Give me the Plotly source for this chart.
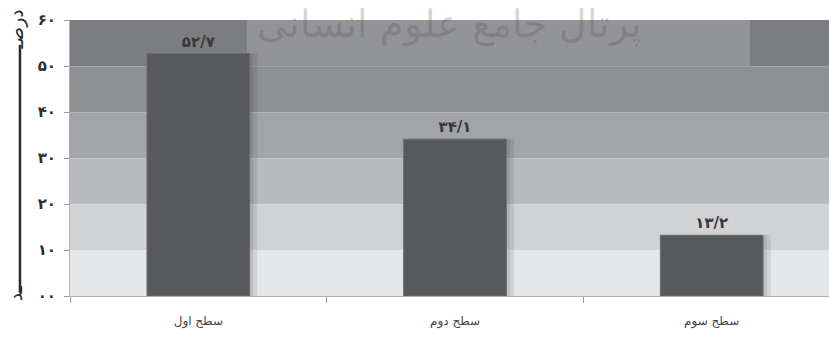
import plotly.graph_objects as go

# Data
categories = ["سطح اول", "سطح دوم", "سطح سوم"]
values = [52.7, 34.1, 13.2]
value_labels = ["۵۲/۷", "۳۴/۱", "۱۳/۲"]
y_ticks = [0, 10, 20, 30, 40, 50, 60]
y_tick_labels = ["۰۰", "۱۰", "۲۰", "۳۰", "۴۰", "۵۰", "۶۰"]

# Horizontal background bands, light at the bottom, dark at the top
band_colors = ["#e6e7e8", "#d1d2d4", "#b9babd", "#a3a4a8", "#8f9094", "#7c7d81"]

fig = go.Figure()

# soft shadow to the right of each bar
fig.add_trace(go.Bar(
    x=categories, y=values, width=0.43, offset=-0.2,
    marker=dict(color="rgba(40,40,40,0.10)", line=dict(width=0)),
    hoverinfo="skip", showlegend=False,
))
fig.add_trace(go.Bar(
    x=categories, y=values, width=0.415, offset=-0.2,
    marker=dict(color="rgba(40,40,40,0.10)", line=dict(width=0)),
    hoverinfo="skip", showlegend=False,
))
fig.add_trace(go.Bar(
    x=categories, y=values, width=0.4, offset=-0.2,
    marker=dict(color="#58595b", line=dict(color="#6a6b6d", width=1)),
    text=value_labels, textposition="outside", cliponaxis=False,
    textfont=dict(family="DejaVu Sans", size=15, color="#38383a", weight="bold"),
    showlegend=False,
))

shapes = []
for i, c in enumerate(band_colors):
    shapes.append(dict(type="rect", xref="paper", yref="y", x0=0, x1=1,
                       y0=y_ticks[i], y1=y_ticks[i + 1], fillcolor=c,
                       line=dict(width=0), layer="below"))
# lighter patch across the top band
shapes.append(dict(type="rect", xref="paper", yref="y", x0=0.233, x1=0.896,
                   y0=50, y1=60, fillcolor="#939498", line=dict(width=0),
                   layer="below"))
# long stroke of the axis title
shapes.append(dict(type="line", xref="paper", yref="paper", x0=-0.0659, x1=-0.0659,
                   y0=0.012, y1=0.91, line=dict(color="#2a2a2a", width=2.5)))

annotations = [
    dict(text="پرتال جامع علوم انسانی", xref="paper", yref="paper",
         x=0.5, y=0.985, xanchor="center", yanchor="middle", showarrow=False,
         font=dict(family="DejaVu Serif", size=38, color="rgba(70,70,70,0.22)")),
    dict(text="درصـ", xref="paper", yref="paper", x=-0.07, y=0.965,
         textangle=-90, showarrow=False, xanchor="center", yanchor="middle",
         font=dict(family="DejaVu Sans", size=19, color="#2a2a2a")),
    dict(text="ـد", xref="paper", yref="paper", x=-0.071, y=0.008,
         textangle=-90, showarrow=False, xanchor="center", yanchor="middle",
         font=dict(family="DejaVu Sans", size=18, color="#2a2a2a")),
]

fig.update_layout(
    width=829, height=343,
    margin=dict(l=70, r=0, t=20, b=47),
    paper_bgcolor="white", plot_bgcolor="white",
    barmode="overlay", bargap=0.6,
    shapes=shapes, annotations=annotations,
    font=dict(family="DejaVu Sans", color="#333333"),
)
fig.update_xaxes(
    type="category", range=[-0.5, 2.457],
    tickson="boundaries", ticks="outside", ticklen=6, tickcolor="#9a9a9a",
    showline=True, linecolor="#b0b0b0", linewidth=1,
    showgrid=False, ticklabelstandoff=14,
    tickfont=dict(family="DejaVu Sans", size=12, color="#444444"),
)
fig.update_yaxes(
    range=[0, 60], tickvals=y_ticks, ticktext=y_tick_labels,
    ticks="outside", ticklen=5, tickcolor="#9a9a9a", ticklabelstandoff=5,
    showline=True, linecolor="#b0b0b0", linewidth=1,
    showgrid=True, gridcolor="rgba(255,255,255,0.18)", zeroline=False,
    tickfont=dict(family="DejaVu Sans", size=15, color="#2e2e2e", weight="bold"),
)

fig.write_html("out.html")
